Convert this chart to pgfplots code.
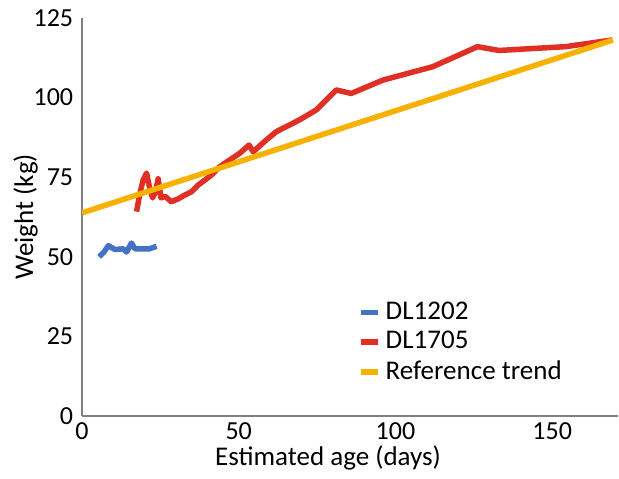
\documentclass[border=0pt]{standalone}
\usepackage{fontspec}
\setmainfont{Carlito}
\usepackage{pgfplots}
\pgfplotsset{compat=1.18}
\definecolor{cblue}{RGB}{68,114,196}
\definecolor{cred}{RGB}{224,48,38}
\definecolor{cyel}{RGB}{247,178,0}
\begin{document}
\fontsize{26}{30}\selectfont
\begin{tikzpicture}
\begin{axis}[
 scale only axis, width=536pt, height=398pt,
 xmin=0, xmax=171, ymin=0, ymax=125,
 axis x line=bottom, axis y line=left,
 axis line style={-, draw=black!50, line width=1.5pt},
 xtick={0,50,100,150}, ytick={0,25,...,125},
 major tick length=0pt,
 tick label style={font=\fontsize{26}{30}\selectfont},
 /pgf/number format/assume math mode=true,
 xticklabel style={yshift=2pt},
 xlabel={Estimated age (days)}, ylabel={Weight (kg)},
 label style={font=\fontsize{27}{31}\selectfont},
 xlabel style={at={(axis description cs:0.459,-0.1055)}, anchor=center},
 ylabel style={at={(axis description cs:-0.082,0.5)}, anchor=south, inner sep=0pt},
 legend style={draw=none, fill=none, at={(axis description cs:0.515,0.184)}, anchor=west,
   font=\fontsize{27}{31}\selectfont, row sep=4pt, inner sep=0pt,
   nodes={inner xsep=5pt}},
 legend cell align=left,
 legend image code/.code={\draw[#1, line width=5.5pt] (0pt,0pt) -- (17pt,0pt);},
 line join=round,
]
\addplot[cblue, line width=5.5pt] coordinates {
(5.5,50.0) (7,51.5) (8.4,53.5) (10.5,52.3) (13.2,52.5) (14.2,51.5) (15.8,54.3) (16.9,52.5) (21.5,52.5) (23.8,53.3)};
\addlegendentry{DL1202}
\addplot[cred, line width=5.5pt] coordinates {
(17.4,64.2) (18.5,70) (19.5,74.1) (20.6,76.3) (21.5,72) (22.5,68.5) (23.5,70.5) (24.3,74.5) (25.2,68.5) (26.5,69) (28.5,67.3) (30.7,68.2) (32.8,69.4) (34.9,70.4) (37,72.5) (39.2,74.1) (41.3,75.7) (43.9,78.3) (47.1,80.4) (50.3,82.5) (53.3,85.1) (54.6,83.0) (58.8,86.7) (62,89.3) (69.4,93) (74.7,96.1) (81.1,102.4) (85.9,101.3) (96,105.5) (111.9,109.7) (126.2,116) (133,114.8) (154.3,116) (169.2,118.1)};
\addlegendentry{DL1705}
\addplot[cyel, line width=5.5pt] coordinates {(0,63.8) (169.4,118.1)};
\addlegendentry{Reference trend}
\coordinate (sw) at (rel axis cs:0,0);
\coordinate (ne) at (rel axis cs:1,1);
\end{axis}
\path ([shift={(-82pt,-58pt)}]sw) rectangle ([shift={(1pt,18pt)}]ne);
\end{tikzpicture}
\end{document}
